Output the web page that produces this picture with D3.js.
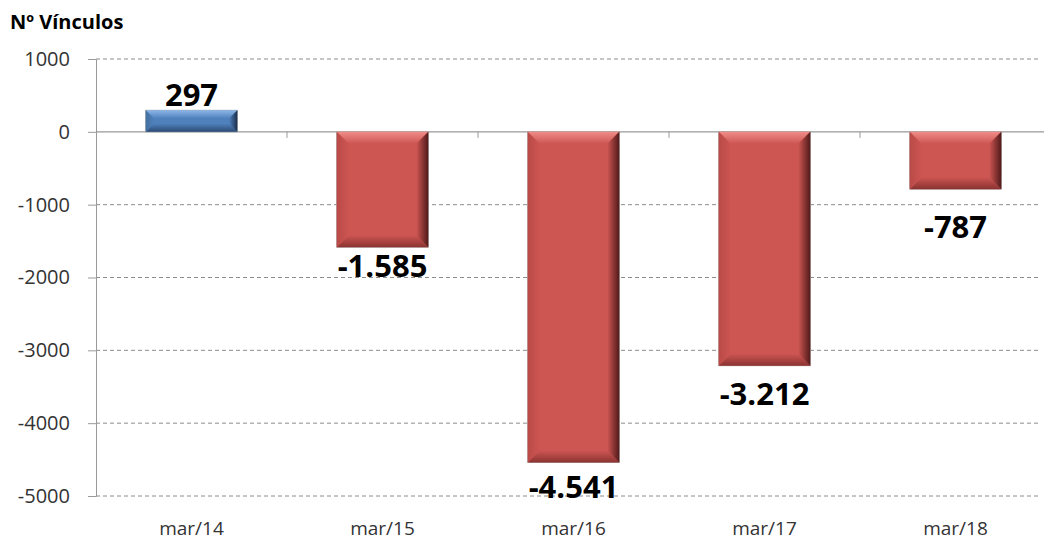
<!DOCTYPE html>
<html><head><meta charset="utf-8">
<script src="https://cdn.jsdelivr.net/npm/d3@7"></script>
<style>body{margin:0;background:#fff}svg{display:block}</style>
</head><body>
<svg id="c" width="1044" height="543"></svg>
<script>
const categories = ["mar/14","mar/15","mar/16","mar/17","mar/18"];
const values = [297, -1585, -4541, -3212, -787];
const valueLabels = ["297","-1.585","-4.541","-3.212","-787"];
const yTicks = [1000, 0, -1000, -2000, -3000, -4000, -5000];
const yTitle = "Nº Vínculos";
// layout-only: per-label vertical offsets (px) as placed in the original
const labelDy = [-4, 30, 35, 39, 49];

(function(){
const svg = d3.select("#c");
const plotLeft = 96, plotTop = 59, plotBottom = 496, step = 191;
const y = d3.scaleLinear().domain([-5000, 1000]).range([plotBottom, plotTop]);
const x = d3.scaleBand().domain(categories).range([plotLeft, plotLeft + step * categories.length]).padding(0);
const bw = x.bandwidth() * 0.48;

const defs = svg.append("defs");
const palettes = {
  pos: {base:"#4f81bd", light:"#8db6e6", dark:"#1a2d48", bot:"#2b4a73", lft:"#44709f"},
  neg: {base:"#cd5552", light:"#f08c88", dark:"#4f1a19", bot:"#8a3331", lft:"#b94a47"}
};
function grad(id, horiz, c0, c1){
  const g = defs.append("linearGradient").attr("id", id)
    .attr("x1",0).attr("y1",0).attr("x2",horiz?1:0).attr("y2",horiz?0:1);
  g.append("stop").attr("offset","0%").attr("stop-color",c0);
  g.append("stop").attr("offset","100%").attr("stop-color",c1);
}
Object.entries(palettes).forEach(([k,p])=>{
  grad(k+"-top", false, p.light, p.base);
  grad(k+"-right", true, p.base, p.dark);
  grad(k+"-bot", false, p.base, p.bot);
  grad(k+"-left", true, p.lft, p.base);
});

// gridlines
const grid = svg.append("g");
yTicks.forEach(t=>{
  if (t === 0) return;
  grid.append("line").attr("x1", plotLeft).attr("x2", 1040).attr("y1", y(t)).attr("y2", y(t))
    .attr("stroke","#8c8c8c").attr("stroke-width",1).attr("stroke-dasharray","4,3");
});

// y axis
const yAxis = d3.axisLeft(y).tickValues(yTicks).tickSize(8).tickPadding(18).tickFormat(d=>String(d));
const yg = svg.append("g").attr("transform",`translate(${plotLeft},0)`).call(yAxis);
yg.select(".domain").attr("stroke","#999");
yg.selectAll(".tick line").attr("stroke","#999");
yg.selectAll(".tick text").attr("font-family","'Open Sans', 'Liberation Sans', sans-serif")
  .attr("font-size",20).attr("fill","#333");

// zero line and category ticks
svg.append("line").attr("x1",plotLeft).attr("x2",1044).attr("y1",y(0)).attr("y2",y(0))
  .attr("stroke","#999").attr("stroke-width",1.2);
categories.slice(1).forEach(c=>{
  svg.append("line").attr("x1",x(c)).attr("x2",x(c)).attr("y1",y(0)).attr("y2",y(0)+6).attr("stroke","#999");
});

// bars with bevel
const bars = svg.append("g");
values.forEach((v,i)=>{
  const cx = x(categories[i]) + x.bandwidth()/2;
  const x0 = cx - bw/2, x1 = cx + bw/2;
  const y0 = Math.min(y(v), y(0)), y1 = Math.max(y(v), y(0));
  const k = v >= 0 ? "pos" : "neg";
  const b = Math.min(12, (y1-y0)/2.6);
  const g = bars.append("g");
  g.append("rect").attr("x",x0).attr("y",y0).attr("width",x1-x0).attr("height",y1-y0)
    .attr("fill",palettes[k].base).attr("stroke","#a9a9a9").attr("stroke-width",0.8);
  const poly = (pts, f)=> g.append("polygon").attr("points", pts.map(p=>p.join(",")).join(" ")).attr("fill", `url(#${k}-${f})`);
  poly([[x0,y0],[x1,y0],[x1-b,y0+b],[x0+b,y0+b]], "top");
  poly([[x0,y1],[x1,y1],[x1-b,y1-b],[x0+b,y1-b]], "bot");
  poly([[x0,y0],[x0+b,y0+b],[x0+b,y1-b],[x0,y1]], "left");
  poly([[x1,y0],[x1,y1],[x1-b,y1-b],[x1-b,y0+b]], "right");
  const ly = (v >= 0 ? y0 : y1) + labelDy[i];
  svg.append("text").attr("x", cx).attr("y", ly).attr("text-anchor","middle")
    .attr("font-family","'Open Sans', 'Liberation Sans', sans-serif").attr("font-weight","bold")
    .attr("font-size",31).attr("fill","#000").text(valueLabels[i]);
});

// category labels
const xAxis = d3.axisBottom(x).tickSize(0).tickPadding(0);
const xg = svg.append("g").attr("transform",`translate(0,${plotBottom})`).call(xAxis);
xg.select(".domain").remove();
xg.selectAll(".tick text").attr("dy", null).attr("y", 39)
  .attr("font-family","'Open Sans', 'Liberation Sans', sans-serif").attr("font-size",19).attr("fill","#333");

// title
svg.append("text").attr("x",10).attr("y",29).attr("font-family","'Open Sans', 'Liberation Sans', sans-serif")
  .attr("font-weight","bold").attr("font-size",20).attr("fill","#000").text(yTitle);
})();
</script>
</body></html>
